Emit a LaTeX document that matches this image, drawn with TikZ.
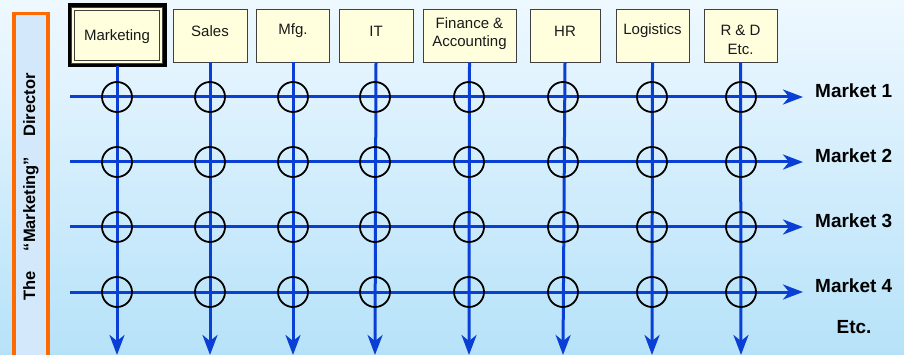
\documentclass[tikz,border=0pt]{standalone}
\usepackage{fontspec}
\setmainfont{Liberation Sans}
\usetikzlibrary{arrows.meta,calc}
\definecolor{bgtop}{HTML}{EEF8FF}
\definecolor{bgbot}{HTML}{B6E2F9}
\definecolor{boxfill}{HTML}{FFFFDD}
\definecolor{linecol}{HTML}{0A3FD6}
\definecolor{orangec}{HTML}{FF6A00}
\definecolor{sidefill}{HTML}{D3E8FB}
\tikzset{
  dept/.style={draw=black!75, line width=0.9pt, fill=boxfill, minimum height=53pt, inner sep=0pt},
  depttext/.style={align=center, font=\fontsize{15}{18.5}\selectfont, text=black!90, inner sep=0pt},
  flow/.style={draw=linecol, line width=3pt, -{Stealth[length=20pt,width=15pt,inset=6pt]}},
  cross/.style={circle, draw=black, line width=1.8pt, minimum size=30pt, inner sep=0pt},
  mkt/.style={font=\bfseries\fontsize{19}{20}\selectfont, anchor=west, inner sep=0pt}
}
\begin{document}
\begin{tikzpicture}[x=1pt,y=-1pt]
\useasboundingbox (0,0) rectangle (904,355);
\shade[top color=bgtop, bottom color=bgbot] (0,0) rectangle (904,355);
% side box
\node[draw=orangec, line width=3.5pt, fill=sidefill, minimum width=34pt, minimum height=360pt, anchor=north west, inner sep=0pt] (side) at (12,12) {};
\node[rotate=90, font=\bfseries\fontsize{16.5}{17}\selectfont] (sidetext) at (31,187) {The\hspace{20pt}“Marketing”\hspace{20pt}Director};
% departments
\node[dept, minimum width=88pt, double=boxfill, double distance=2.2pt, line width=1pt] (d1) at (117,35.5) {};
\draw[line width=3.6pt] ($(d1.south west)+(-3.2,3.2)$) rectangle ($(d1.north east)+(3.2,-3.2)$);
\node[dept, minimum width=74pt] (d2) at (210,35.5) {};
\node[dept, minimum width=73pt] (d3) at (293,35.5) {};
\node[dept, minimum width=74pt] (d4) at (376,35.5) {};
\node[dept, minimum width=93pt] (d5) at (469.5,35.5) {};
\node[dept, minimum width=70pt] (d6) at (565,35.5) {};
\node[dept, minimum width=73pt] (d7) at (652.5,35.5) {};
\node[dept, minimum width=73pt] (d8) at (740.5,35.5) {};
\node[depttext] (t1) at (117,37) {Marketing};
\node[depttext] (t2) at (210,31) {Sales};
\node[depttext] (t3) at (293,31) {Mfg.};
\node[depttext] (t4) at (376,31) {IT};
\node[depttext] (t5) at (469.5,33.5) {Finance \&\\Accounting};
\node[depttext] (t6) at (565,31) {HR};
\node[depttext] (t7) at (652.5,31) {Logistics};
\node[depttext] (t8) at (740.5,40) {R \& D\\Etc.};
% bottom ends
\foreach \i/\x in {1/117,2/210,3/293,4/375,5/469,6/563,7/652,8/741}{
  \coordinate (b\i) at (\x,355);
}
\draw[flow] (d1.south) ++(0,3.2) -- (b1);
\foreach \i in {2,...,8}{ \draw[flow] (d\i.south) -- (b\i); }
% rows
\foreach \j/\y in {1/97,2/162,3/227,4/292}{
  \coordinate (l\j) at (70,\y);
  \coordinate (r\j) at (803,\y);
  \draw[flow] (l\j) -- (r\j);
  \node[mkt] (m\j) at (815,\y-6) {Market \j};
  \foreach \i/\x in {1/117,2/210,3/293,4/375,5/469,6/563,7/652,8/741}{
    \node[cross] (c\i\j) at (\x,\y) {};
  }
}
\node[font=\bfseries\fontsize{19}{20}\selectfont, inner sep=0pt] (etc) at (854,327) {Etc.};
\end{tikzpicture}
\end{document}
